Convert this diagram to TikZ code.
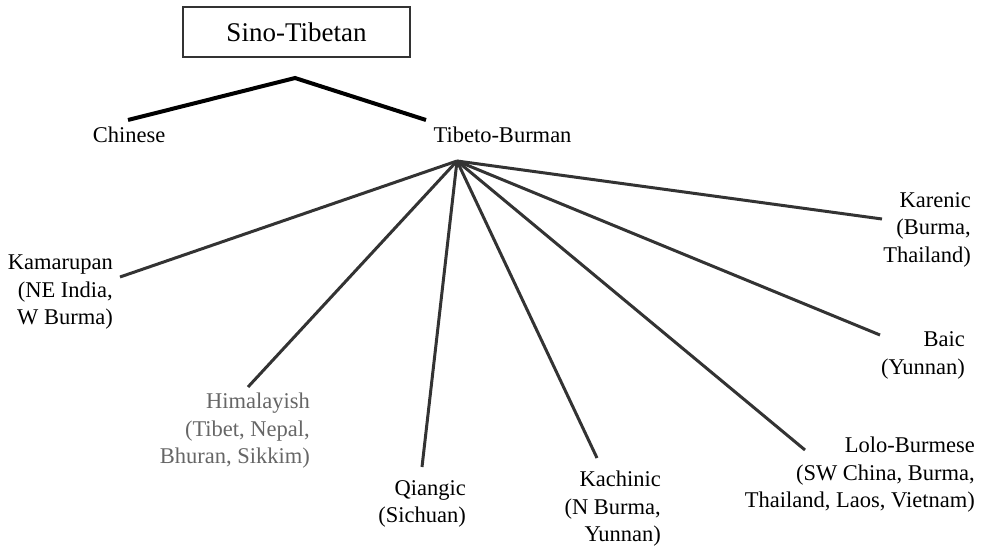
\documentclass[tikz,border=0pt]{standalone}
\usepackage{fontspec}
\setmainfont{Liberation Serif}
\usetikzlibrary{calc,positioning}

\begin{document}
\begin{tikzpicture}[x=1pt,y=-1pt]
  \tikzstyle{famlabel}=[inner sep=0pt,align=right,anchor=east,font=\fontsize{22.5}{27.5}\selectfont]
  \tikzstyle{branch}=[line width=3pt,draw=black!80]
  \useasboundingbox (0,0) rectangle (984,548);

  \node[draw=black!80,line width=1.6pt,minimum width=227pt,minimum height=50pt,font=\fontsize{27}{30}\selectfont] (sino) at (296.5,32) {Sino-Tibetan};
  \node[famlabel,anchor=center] (chin) at (129,135) {Chinese};
  \node[famlabel,anchor=center] (tibbur) at (502.5,135) {Tibeto-Burman};

  \coordinate (top) at (295,78);
  \coordinate (chin-end) at (128,120);
  \coordinate (tb-end) at (426,120);
  \draw[line width=4pt] (chin-end) -- (top) -- (tb-end);

  % subgroups of Tibeto-Burman
  \node[famlabel] (kamar) at (113,292.5) {Kamarupan\\(NE India,\\W Burma)};
  \node[famlabel,text=black!60] (himal) at (310,431) {Himalayish\\(Tibet, Nepal,\\Bhuran, Sikkim)};
  \node[famlabel] (qiang) at (466,504) {Qiangic\\(Sichuan)};
  \node[famlabel] (kachin) at (661,509) {Kachinic\\(N Burma,\\Yunnan)};
  \node[famlabel] (lolo) at (975,475) {Lolo-Burmese\\(SW China, Burma,\\Thailand, Laos, Vietnam)};
  \node[famlabel] (baic) at (965,355.5) {Baic\\(Yunnan)};
  \node[famlabel] (karen) at (971,229.5) {Karenic\\(Burma,\\Thailand)};

  \coordinate (fan) at (457,161);
  \coordinate (kamar-end) at (120,277);
  \coordinate (himal-end) at (248,387);
  \coordinate (qiang-end) at (422,467);
  \coordinate (kachin-end) at (597,458);
  \coordinate (lolo-end) at (805,450);
  \coordinate (baic-end) at (880,335);
  \coordinate (karen-end) at (882,219);
  \foreach \g in {kamar,himal,qiang,kachin,lolo,baic,karen}
    \draw[branch] (fan) -- (\g-end);
\end{tikzpicture}
\end{document}
